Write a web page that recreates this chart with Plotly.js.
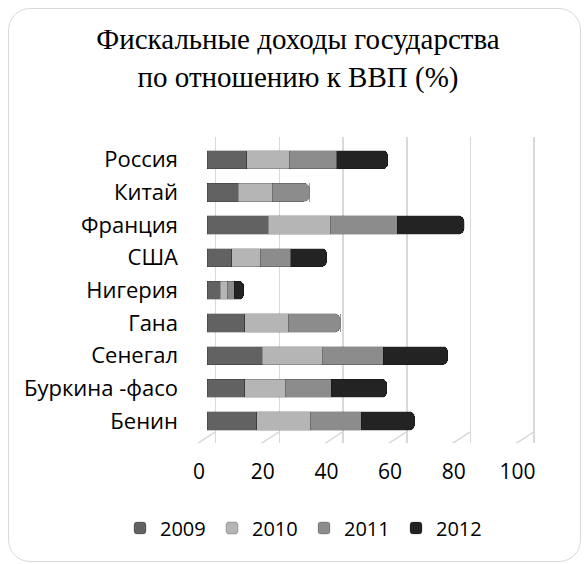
<!DOCTYPE html>
<html>
<head>
<meta charset="utf-8">
<script src="https://cdn.plot.ly/plotly-3.0.1.min.js"></script>
<style>
html,body{margin:0;padding:0;background:#fff;}
#frame{position:absolute;left:8px;top:8px;width:571px;height:552px;border:1px solid #d9d9d9;border-radius:22px;}
#chart{position:absolute;left:0;top:0;width:588px;height:564px;}
</style>
</head>
<body>
<div id="frame"></div>
<div id="chart"></div>
<script>
// ---- data ----
const categories = ['Россия','Китай','Франция','США','Нигерия','Гана','Сенегал','Буркина -фасо','Бенин'];
const years = ['2009','2010','2011','2012'];
const v2009 = [12.5, 9.8, 19.3, 7.8, 4.1, 11.9, 17.4, 11.9, 15.6];
const v2010 = [13.3, 10.8, 19.4, 8.9, 2.3, 13.6, 18.9, 12.6, 16.8];
const v2011 = [15.0, 11.5, 21.0, 9.6, 2.1, 16.3, 19.1, 14.5, 16.0];
const v2012 = [16.0, 0, 21.0, 11.3, 3.1, 0, 20.2, 17.5, 16.8];
const xTicks = [0, 20, 40, 60, 80, 100];
const xTickText = ['0', '20', '40', '60', '80', '100'];

// ---- styling ----
const colors = ['#626262', '#b5b5b5', '#8c8c8c', '#232323'];
const series = [v2009, v2010, v2011, v2012];
const W = 588, H = 564;
const px = x => x / W, py = y => 1 - y / H;
const s = 3.185;          // px per unit
const L = 195, R = 545;   // plot domain in px
const span = (R - L) / s;
const barRange = [-(207 - L) / s, -(207 - L) / s + span];
const gridRange = [-(215.7 - L) / s, -(215.7 - L) / s + span];
const depth = 18 / s;     // floor depth in units
const font = 'Open Sans, Noto Sans, sans-serif';

const floorX = [], floorY = [];
xTicks.forEach(t => { floorX.push(t, t - depth, null); floorY.push(1, 0, null); });

const traces = [
  {type:'scatter', x: xTicks, y: xTicks.map(() => 0.5), xaxis:'x', yaxis:'y', mode:'markers',
   marker:{opacity:0}, showlegend:false, hoverinfo:'skip'},
  {type:'scatter', x: floorX, y: floorY, xaxis:'x', yaxis:'y3', mode:'lines',
   line:{color:'#d9d9d9', width:1.5}, showlegend:false, hoverinfo:'skip'}
];
series.forEach((vals, i) => {
  traces.push({
    type:'bar', orientation:'h', y: categories, x: vals, name: years[i],
    xaxis:'x2', yaxis:'y2',
    marker:{color: colors[i], line:{color:'rgba(0,0,0,0.35)', width:0.6}}
  });
});

const layout = {
  width: W, height: H,
  margin: {l:0, r:0, t:0, b:0},
  paper_bgcolor: 'rgba(0,0,0,0)', plot_bgcolor: 'rgba(0,0,0,0)',
  barmode: 'stack', bargap: 0.44, barcornerradius: 5,
  showlegend: true,
  title: {
    text: 'Фискальные доходы государства<br>по отношению к ВВП (%)',
    font: {family: 'Liberation Serif, Times New Roman, serif', size: 29, color: '#000'},
    x: px(298), xanchor: 'center', y: py(49), yanchor: 'middle', yref: 'paper'
  },
  xaxis: {domain: [px(L), px(R)], range: gridRange, anchor: 'y', showgrid: true,
    gridcolor: '#d9d9d9', gridwidth: 1.5, tickvals: xTicks, showticklabels: false,
    zeroline: false, showline: false, ticks: '', fixedrange: true},
  yaxis: {domain: [py(431.7), py(137)], range: [0, 1], visible: false, anchor: 'x', fixedrange: true},
  yaxis3: {domain: [py(443.3), py(431.7)], range: [0, 1], visible: false, anchor: 'x', fixedrange: true},
  xaxis2: {domain: [px(L), px(R)], range: barRange, anchor: 'y2', showgrid: false,
    zeroline: false, showline: false, ticks: '', tickvals: xTicks, ticktext: xTickText,
    tickfont: {family: font, size: 21, color: '#000'}, ticklabelshift: -8, ticklabelstandoff: 20,
    fixedrange: true},
  yaxis2: {domain: [py(437.3), py(143.4)], anchor: 'x2', type: 'category',
    categoryorder: 'array', categoryarray: categories, autorange: 'reversed',
    showgrid: false, zeroline: false, showline: false, ticks: '',
    tickfont: {family: font, size: 22, color: '#000'}, ticklabelstandoff: 16, fixedrange: true},
  legend: {orientation: 'h', x: px(304), xanchor: 'center', y: py(528), yanchor: 'middle',
    entrywidth: 47, entrywidthmode: 'pixels',
    font: {family: font, size: 20, color: '#000'}, bgcolor: 'rgba(0,0,0,0)', traceorder: 'normal'}
};

Plotly.newPlot('chart', traces, layout, {displayModeBar: false, staticPlot: true});
</script>
</body>
</html>
